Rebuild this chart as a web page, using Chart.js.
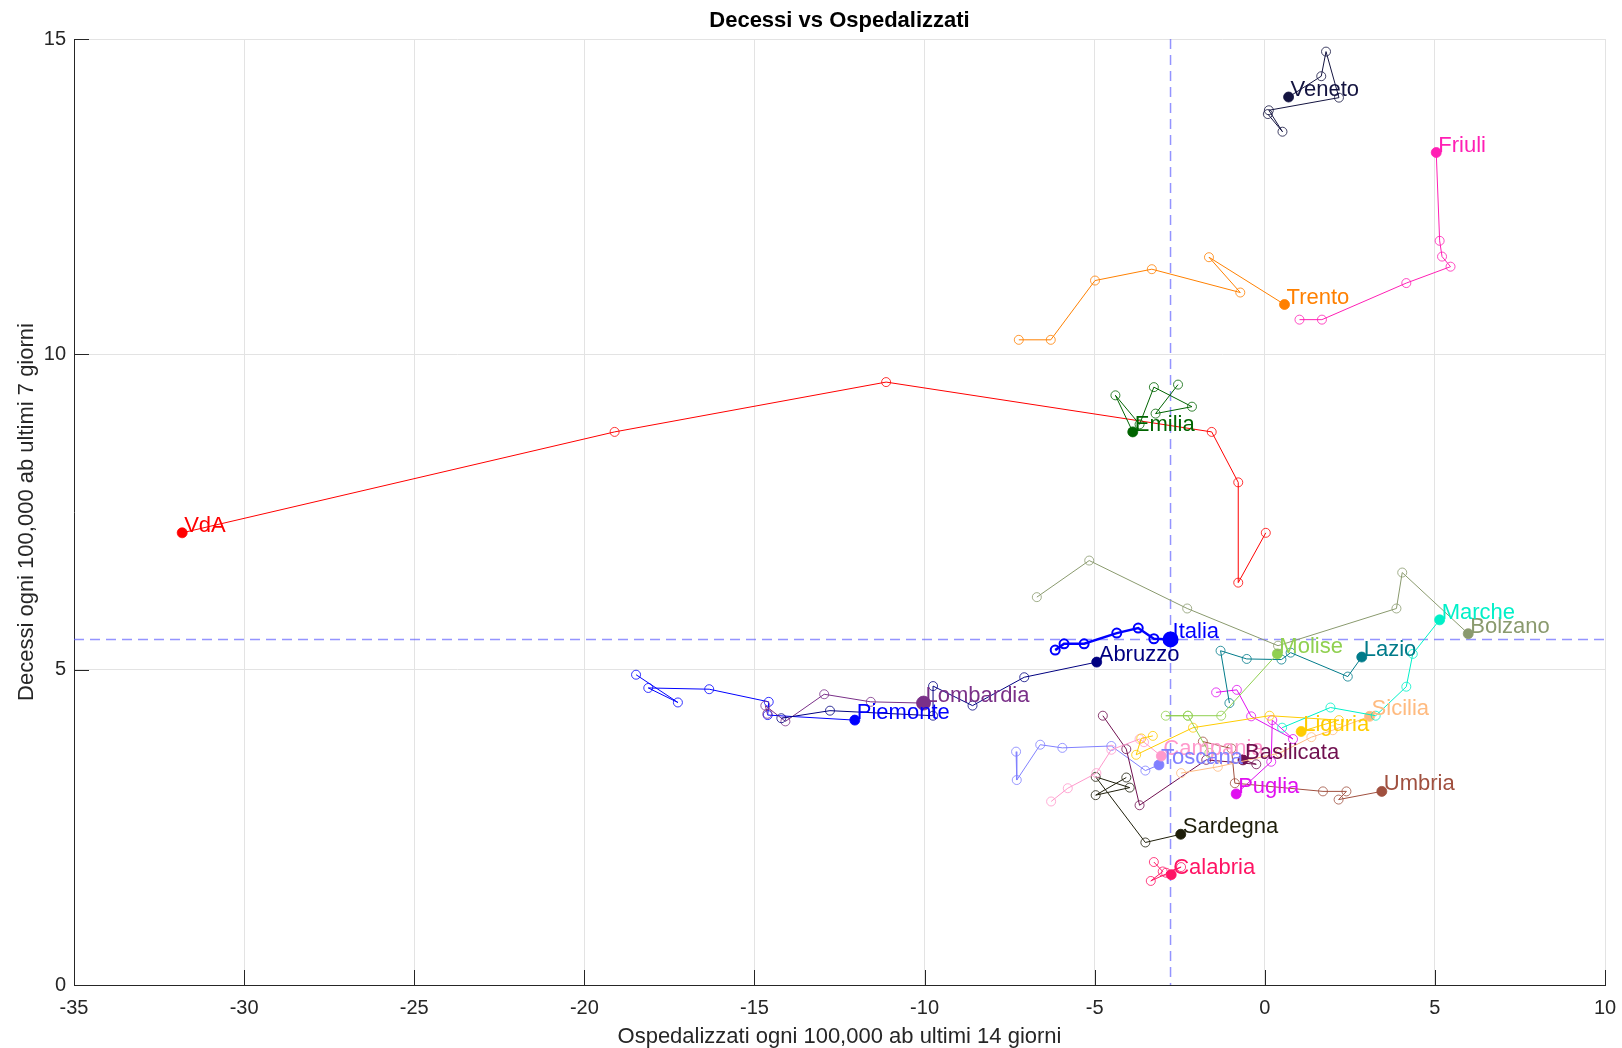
<!DOCTYPE html>
<html>
<head>
<meta charset="utf-8">
<script src="https://cdn.jsdelivr.net/npm/chart.js@4"></script>
<style>
  body { margin: 0; background: #fff; }
</style>
</head>
<body>
<canvas id="myChart" width="1622" height="1048"></canvas>
<script>
// traiettorie settimanali [ospedalizzati 14gg, decessi 7gg], ultimo punto = oggi
const italia = [[-6.16, 5.31], [-5.90, 5.41], [-5.31, 5.41], [-4.35, 5.58], [-3.72, 5.66], [-3.26, 5.49], [-2.77, 5.48]];
const veneto = [[0.09, 13.81], [0.52, 13.53], [0.12, 13.87], [2.18, 14.07], [1.80, 14.80], [1.66, 14.41], [0.70, 14.08]];
const friuli = [[1.02, 10.55], [1.68, 10.55], [4.16, 11.13], [5.46, 11.39], [5.21, 11.55], [5.14, 11.80], [5.04, 13.20]];
const trento = [[-7.23, 10.23], [-6.29, 10.23], [-4.99, 11.17], [-3.32, 11.35], [-0.72, 10.98], [-1.64, 11.54], [0.58, 10.79]];
const emilia = [[-2.55, 9.52], [-3.21, 9.06], [-2.14, 9.17], [-3.26, 9.48], [-3.68, 8.89], [-4.39, 9.35], [-3.88, 8.77]];
const vda = [[0.03, 7.17], [-0.78, 6.38], [-0.78, 7.97], [-1.56, 8.77], [-11.13, 9.56], [-19.11, 8.77], [-31.82, 7.17]];
const bolzano = [[-6.70, 6.15], [-5.16, 6.73], [-2.28, 5.97], [0.39, 5.38], [3.87, 5.97], [4.04, 6.54], [5.98, 5.57]];
const marche = [[0.51, 4.08], [1.93, 4.40], [3.26, 4.27], [4.16, 4.73], [4.35, 5.25], [5.14, 5.79]];
const molise = [[-1.63, 3.68], [-2.26, 4.27], [-2.91, 4.27], [-2.26, 4.27], [-1.28, 4.27], [0.37, 5.25]];
const lazio = [[-1.04, 4.47], [-1.30, 5.30], [-0.53, 5.17], [0.49, 5.16], [0.76, 5.27], [2.44, 4.89], [2.85, 5.20]];
const abruzzo = [[-14.21, 4.23], [-12.78, 4.35], [-9.75, 4.27], [-9.75, 4.74], [-8.59, 4.43], [-7.07, 4.88], [-4.94, 5.12]];
const sicilia = [[-2.46, 3.36], [-1.38, 3.46], [0.45, 3.68], [1.37, 3.93], [2.00, 4.04], [3.08, 4.26]];
const lombardia = [[-14.62, 4.30], [-14.68, 4.43], [-14.09, 4.18], [-12.95, 4.61], [-11.58, 4.49], [-10.03, 4.47]];
const liguria = [[-3.29, 3.95], [-3.63, 3.91], [-3.78, 3.65], [-2.11, 4.08], [0.14, 4.27], [2.18, 4.20], [1.07, 4.02]];
const piemonte = [[-18.48, 4.92], [-17.25, 4.48], [-18.12, 4.71], [-16.33, 4.69], [-14.58, 4.49], [-14.61, 4.28], [-12.05, 4.20]];
const campania = [[-6.28, 2.91], [-5.79, 3.12], [-4.95, 3.36], [-4.51, 3.73], [-3.68, 3.90], [-3.55, 3.85], [-3.04, 3.63]];
const basilicata = [[-4.76, 4.27], [-4.07, 3.74], [-3.68, 2.85], [-1.72, 3.57], [-0.25, 3.50], [-0.64, 3.57]];
const toscana = [[-7.31, 3.70], [-7.29, 3.25], [-6.60, 3.81], [-5.95, 3.76], [-4.51, 3.79], [-3.51, 3.40], [-3.11, 3.49]];
const puglia = [[-1.43, 4.64], [-0.82, 4.68], [-0.40, 4.26], [0.83, 3.90], [0.22, 4.20], [0.19, 3.54], [-0.84, 3.03]];
const umbria = [[-1.82, 3.86], [-0.98, 3.75], [-0.88, 3.20], [1.71, 3.07], [2.40, 3.07], [2.17, 2.94], [3.44, 3.07]];
const sardegna = [[-4.07, 3.29], [-4.97, 3.01], [-3.97, 3.13], [-4.97, 3.30], [-3.51, 2.26], [-2.47, 2.39]];
const calabria = [[-3.26, 1.95], [-3.00, 1.80], [-3.35, 1.65], [-2.46, 1.87], [-2.90, 1.78], [-2.75, 1.75]];

const regioni = ["Italia", "Veneto", "Friuli", "Trento", "Emilia", "VdA", "Bolzano", "Marche", "Molise", "Lazio",
  "Abruzzo", "Sicilia", "Lombardia", "Liguria", "Piemonte", "Campania", "Basilicata", "Toscana", "Puglia",
  "Umbria", "Sardegna", "Calabria"];
const tracce = [italia, veneto, friuli, trento, emilia, vda, bolzano, marche, molise, lazio,
  abruzzo, sicilia, lombardia, liguria, piemonte, campania, basilicata, toscana, puglia,
  umbria, sardegna, calabria];

const xTicks = [-35, -30, -25, -20, -15, -10, -5, 0, 5, 10];
const yTicks = [0, 5, 10, 15];

const colori = ["#0000ff", "#141440", "#ff1fb4", "#ff8000", "#006400", "#ff0000", "#8a9a6e", "#00f0c8",
  "#90d050", "#007b8a", "#000080", "#ffbb80", "#7a3088", "#ffcc00", "#0000ff", "#ff99cc", "#701050",
  "#8080ff", "#e010f0", "#a0503f", "#1e1e0a", "#ff1464"];

const FONT = '"Liberation Sans", Arial, Helvetica, sans-serif';
const AX = "#262626";

const datasets = regioni.map((nome, i) => {
  const big = nome === "Italia" || nome === "Lombardia";
  const n = tracce[i].length;
  return {
    label: nome,
    data: tracce[i].map(p => ({ x: p[0], y: p[1] })),
    showLine: true,
    borderColor: colori[i],
    borderWidth: nome === "Italia" ? 2.5 : 1,
    pointBorderColor: colori[i],
    pointBorderWidth: nome === "Italia" ? 2 : 0.8,
    pointRadius: c => (c.dataIndex === n - 1 ? (big ? 7 : 5) : 4.5),
    pointBackgroundColor: c => (c.dataIndex === n - 1 ? colori[i] : "rgba(0,0,0,0)"),
  };
});

// titolo centrato sull'area del grafico (come matlab)
const titolo = {
  id: "titolo",
  afterDraw(chart) {
    const { ctx, chartArea } = chart;
    ctx.save();
    ctx.font = "bold 22px " + FONT;
    ctx.fillStyle = "#000";
    ctx.textAlign = "center";
    ctx.textBaseline = "middle";
    ctx.fillText("Decessi vs Ospedalizzati", (chartArea.left + chartArea.right) / 2, 21);
    ctx.restore();
  },
};

// linee tratteggiate sul valore Italia
const refLines = {
  id: "refLines",
  beforeDatasetsDraw(chart) {
    const { ctx, chartArea, scales } = chart;
    const last = italia[italia.length - 1];
    const px = scales.x.getPixelForValue(last[0]);
    const py = scales.y.getPixelForValue(last[1]);
    ctx.save();
    ctx.strokeStyle = "rgba(90,90,255,0.65)";
    ctx.lineWidth = 1.5;
    ctx.setLineDash([10, 6]);
    ctx.beginPath();
    ctx.moveTo(px, chartArea.top);
    ctx.lineTo(px, chartArea.bottom);
    ctx.moveTo(chartArea.left, py);
    ctx.lineTo(chartArea.right, py);
    ctx.stroke();
    ctx.restore();
  },
};

// tick verso l'interno, stile matlab
const ticksIn = {
  id: "ticksIn",
  afterDraw(chart) {
    const { ctx, chartArea, scales } = chart;
    ctx.save();
    ctx.strokeStyle = AX;
    ctx.lineWidth = 1;
    ctx.beginPath();
    xTicks.forEach(v => {
      const p = Math.round(scales.x.getPixelForValue(v)) + 0.5;
      ctx.moveTo(p, chartArea.bottom);
      ctx.lineTo(p, chartArea.bottom - 15);
    });
    yTicks.forEach(v => {
      const p = Math.round(scales.y.getPixelForValue(v)) + 0.5;
      ctx.moveTo(chartArea.left, p);
      ctx.lineTo(chartArea.left + 15, p);
    });
    ctx.stroke();
    ctx.restore();
  },
};

const etichette = {
  id: "etichette",
  afterDatasetsDraw(chart) {
    const { ctx } = chart;
    ctx.save();
    ctx.font = "22px " + FONT;
    ctx.textAlign = "left";
    ctx.textBaseline = "middle";
    chart.data.datasets.forEach((ds, i) => {
      const meta = chart.getDatasetMeta(i);
      const pt = meta.data[meta.data.length - 1];
      ctx.fillStyle = colori[i];
      ctx.fillText(ds.label, pt.x + 2, pt.y - 7);
    });
    ctx.restore();
  },
};

const ctx = document.getElementById("myChart");

new Chart(ctx, {
  type: "scatter",
  data: { datasets: datasets },
  plugins: [titolo, refLines, ticksIn, etichette],
  options: {
    responsive: false,
    animation: false,
    devicePixelRatio: 1,
    layout: { padding: { top: 39, right: 17, bottom: 0, left: 0 } },
    plugins: {
      legend: { display: false },
      tooltip: { enabled: false },
      title: { display: false },
    },
    scales: {
      x: {
        type: "linear",
        min: -35,
        max: 10,
        afterBuildTicks: s => { s.ticks = xTicks.map(v => ({ value: v })); },
        afterFit: s => { s.height = 63; s.paddingLeft = 0; s.paddingRight = 0; },
        ticks: { color: AX, font: { family: FONT, size: 20 }, padding: 11 },
        grid: { color: "#e3e3e3", drawTicks: false },
        border: { color: AX, width: 1 },
        title: {
          display: true,
          text: "Ospedalizzati ogni 100,000 ab ultimi 14 giorni",
          color: AX,
          font: { family: FONT, size: 22, lineHeight: 1 },
          padding: { top: 0, bottom: 0 },
        },
      },
      y: {
        type: "linear",
        min: 0,
        max: 15,
        afterBuildTicks: s => { s.ticks = yTicks.map(v => ({ value: v })); },
        afterFit: s => { s.width = 74; s.paddingTop = 0; s.paddingBottom = 0; },
        ticks: { color: AX, font: { family: FONT, size: 20 }, padding: 8 },
        grid: { color: "#e3e3e3", drawTicks: false },
        border: { color: AX, width: 1 },
        title: {
          display: true,
          text: "Decessi ogni 100,000 ab ultimi 7 giorni",
          color: AX,
          font: { family: FONT, size: 22 },
          padding: { top: 14, bottom: 0 },
        },
      },
    },
  },
});
</script>
</body>
</html>
